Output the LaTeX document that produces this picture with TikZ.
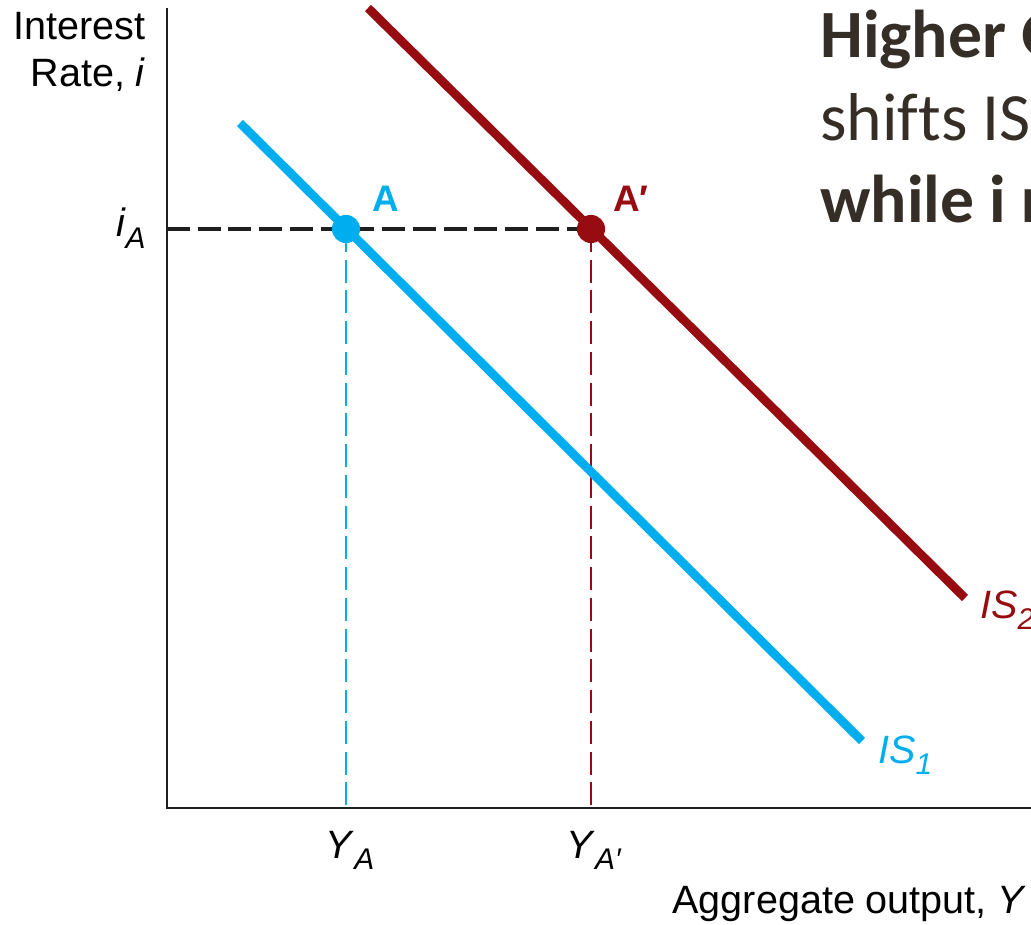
\documentclass[tikz,border=0pt]{standalone}
\usepackage{fontspec}
\setmainfont{Liberation Sans}
\newfontfamily\slidefont{Carlito}[Ligatures=NoCommon]
\usetikzlibrary{positioning, backgrounds}

\definecolor{isblue}{RGB}{0,174,239}
\definecolor{isred}{RGB}{150,12,16}
\definecolor{slidetext}{RGB}{52,46,38}

\newcommand{\lowsub}[1]{\raisebox{-0.55ex}{\fontsize{17}{17}\selectfont #1}}

\begin{document}
\begin{tikzpicture}[x=0.02cm, y=-0.02cm,
    axis/.style={line width=1.7pt, black!88},
    curve/.style={line width=5pt},
    guide/.style={line width=1.5pt, dash pattern=on 13pt off 4.5pt},
    point/.style={circle, inner sep=0pt, minimum size=16pt},
    lbl/.style={font=\fontsize{22.5}{27}\selectfont, inner sep=0pt},
    slide/.style={font=\slidefont\fontsize{38.5}{46}\selectfont, text=slidetext,
                  anchor=base west, inner sep=0pt}
  ]
    \clip (0,0) rectangle (1031,925);

    % Axes
    \coordinate (origin) at (167,808);
    \coordinate (ytop) at (167,8);
    \coordinate (xend) at (1031,808);
    \draw[axis] (ytop) -- (origin) -- (xend);

    % IS curves
    \coordinate (is1-start) at (240,123);
    \coordinate (is1-end) at (862,741);
    \coordinate (is2-start) at (368,8);
    \coordinate (is2-end) at (965,598);
    \draw[curve, isblue] (is1-start) -- (is1-end);
    \draw[curve, isred] (is2-start) -- (is2-end);

    % Equilibrium points
    \node[point, fill=isblue] (A) at (346,229) {};
    \node[point, fill=isred] (Ap) at (591,229) {};

    % Dashed guides behind the points
    \begin{scope}[on background layer]
      \draw[guide, black!88, line width=1.8pt] (origin |- Ap) -- (Ap.center);
      \draw[guide, isblue, line width=1.4pt] (A.center) -- (A |- origin);
      \draw[guide, isred] (Ap.center) -- (Ap |- origin);
    \end{scope}

    % Point labels
    \node[lbl, font=\fontsize{21}{25}\selectfont\bfseries, text=isblue, anchor=base west] (A-label) at (372,212) {A};
    \node[lbl, font=\fontsize{21}{25}\selectfont\bfseries, text=isred, anchor=base west] (Ap-label) at (613,212) {A′};

    % Curve labels
    \node[lbl, text=isred, anchor=base west] (is2-label) at (980,618) {\textit{IS}\lowsub{\textit{2}}};
    \node[lbl, text=isblue, anchor=base west] (is1-label) at (878,763) {\textit{IS}\lowsub{\textit{1}}};

    % Axis labels
    \node[lbl, align=right, anchor=north east, font=\fontsize{22.5}{27}\selectfont] (y-label) at (146,12) {Interest\\Rate, \textit{i}};
    \node[lbl, anchor=base east] (iA-label) at (146,237) {\textit{i}\lowsub{\textit{A}}};
    \node[lbl, anchor=base] (YA-label) at (350,858) {\textit{Y}\lowsub{\textit{A}}};
    \node[lbl, anchor=base] (YAp-label) at (594,858) {\textit{Y}\lowsub{\textit{A′}}};
    \node[lbl, anchor=base east] (x-label) at (1027,913) {Aggregate output, \textit{Y}};

    % Slide text (cut off at the right edge)
    \node[slide, font=\slidefont\bfseries\fontsize{38.5}{46}\selectfont] (line1) at (820,58) {Higher G};
    \node[slide] (line2) at (820,141) {shifts IS};
    \node[slide, font=\slidefont\bfseries\fontsize{38.5}{46}\selectfont] (line3) at (820,223) {while i r};

\end{tikzpicture}
\end{document}
